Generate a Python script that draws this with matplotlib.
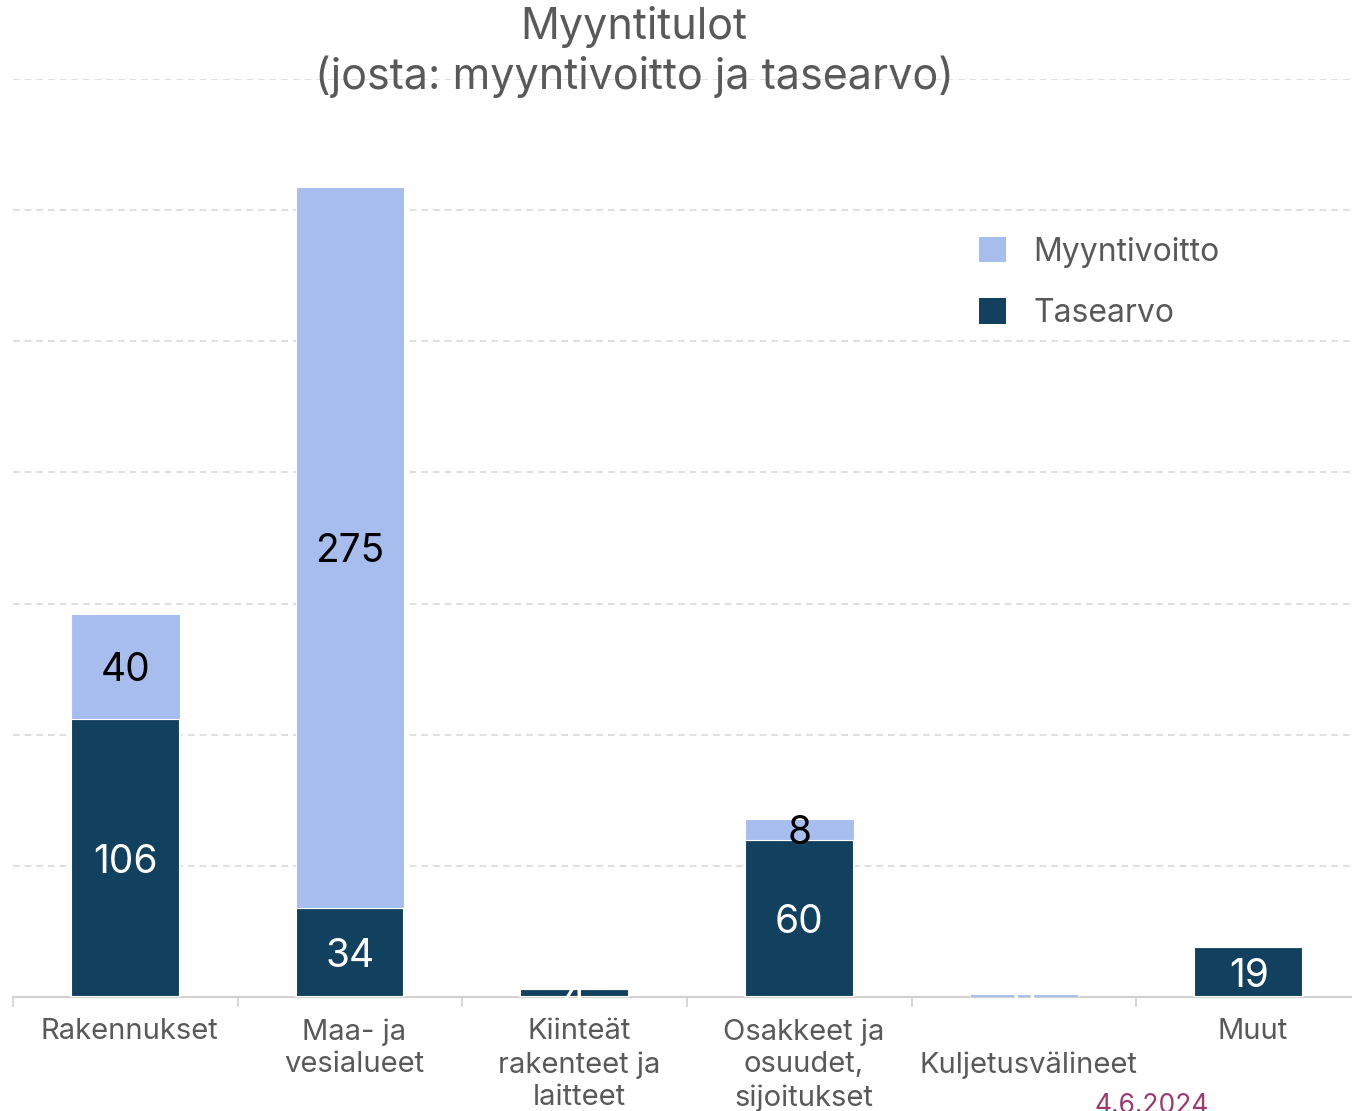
import matplotlib
matplotlib.use("Agg")
import matplotlib.pyplot as plt
from matplotlib.patches import Patch

plt.rcParams['font.family'] = ['Inter', 'DejaVu Sans']

categories = ["Rakennukset", "Maa- ja\nvesialueet", "Kiinteät\nrakenteet ja\nlaitteet",
              "Osakkeet ja\nosuudet,\nsijoitukset", "\nKuljetusvälineet", "Muut"]
tasearvo = [106, 34, 3, 60, 0, 19]
myyntivoitto = [40, 275, 0, 8, 1, 0]
tasearvo_labels = ["106", "34", "4", "60", "0", "19"]
myyntivoitto_labels = ["40", "275", "", "8", "", ""]
title = "Myyntitulot\n(josta: myyntivoitto ja tasearvo)"
date_text = "4.6.2024"

C_LIGHT = "#a6bdee"
C_DARK = "#12405f"
C_TEXT = "#595959"
C_GRID = "#d9d9d9"

W, H = 1352, 1111
fig = plt.figure(figsize=(W / 100, H / 100), dpi=100)
ax = fig.add_axes([13 / W, (H - 997) / H, (1361 - 13) / W, (997 - 79) / H])

x = list(range(len(categories)))
bw = 0.485
ax.bar(x, tasearvo, width=bw, color=C_DARK, edgecolor="white", linewidth=1.5, zorder=3, label="Tasearvo")
ax.bar(x, myyntivoitto, width=bw, bottom=tasearvo, color=C_LIGHT, edgecolor="white", linewidth=0.8,
       zorder=3, label="Myyntivoitto")

for i in x:
    if tasearvo_labels[i]:
        ax.annotate(tasearvo_labels[i], (i, tasearvo[i] / 2), xytext=(0, -3), textcoords="offset points",
                    ha="center", va="center", color="white", fontsize=28, zorder=5,
                    annotation_clip=False)
    if myyntivoitto_labels[i]:
        ax.annotate(myyntivoitto_labels[i], (i, tasearvo[i] + myyntivoitto[i] / 2), xytext=(0, -3),
                    textcoords="offset points", ha="center", va="center", color="black", fontsize=28,
                    zorder=5, annotation_clip=False)

ax.set_xlim(-0.5, 5.5)
ax.set_ylim(0, 350)
ax.set_yticks([50, 100, 150, 200, 250, 300, 350])
ax.yaxis.grid(True, color=C_GRID, linestyle=(0, (4, 3)), linewidth=1.2, zorder=0)
ax.tick_params(axis="y", left=False, labelleft=False)
for s in ["top", "right", "left"]:
    ax.spines[s].set_visible(False)
ax.spines["bottom"].set_color("#d0d0d0")
ax.spines["bottom"].set_linewidth(1.5)
ax.set_xticks([-0.5, 0.5, 1.5, 2.5, 3.5, 4.5])
ax.set_xticklabels([])
ax.tick_params(axis="x", length=7, width=1.2, color="#d0d0d0")
ax.set_facecolor("none")

for i, c in enumerate(categories):
    ax.annotate(c, (i, (997 - 1018) / 918), xycoords=ax.get_xaxis_transform(), xytext=(3, 0),
                textcoords="offset points", ha="center", va="top", multialignment="center",
                fontsize=21, color=C_TEXT, linespacing=1.28, annotation_clip=False)

fig.text(634 / W, 1 - 52 / H, title, ha="center", va="center", fontsize=31, color=C_TEXT,
         linespacing=1.2)

handles = [Patch(facecolor=C_LIGHT, label="Myyntivoitto"), Patch(facecolor=C_DARK, label="Tasearvo")]
ax.legend(handles=handles, loc="upper left", bbox_to_anchor=(950 / W, 1 - 208 / H),
          bbox_transform=fig.transFigure, frameon=False, fontsize=23, labelcolor=C_TEXT,
          handlelength=0.85, handleheight=0.85, handletextpad=0.85, labelspacing=0.95)

fig.text(1095 / W, 1 - 1106 / H, date_text, ha="left", va="center", fontsize=19, color="#9c3a6f")

fig.savefig("out.png", dpi=100)
